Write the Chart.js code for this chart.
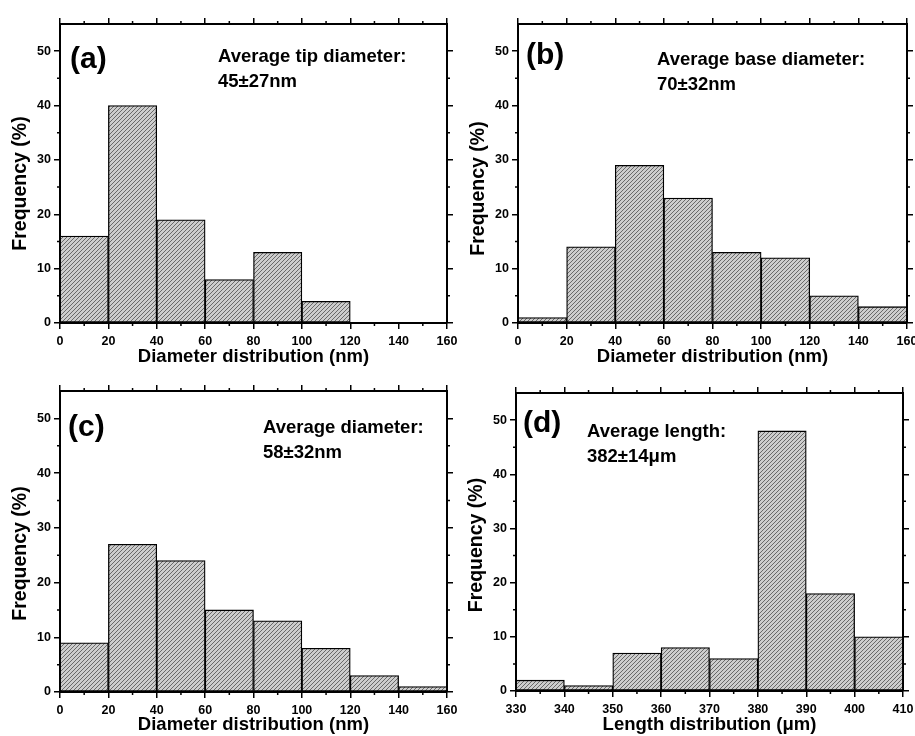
<!DOCTYPE html>
<html>
<head>
<meta charset="utf-8">
<script src="https://cdn.jsdelivr.net/npm/chart.js@4.4.1/dist/chart.umd.min.js"></script>
<style>
  html, body { margin: 0; padding: 0; background: #fff; }
  #wrap { position: relative; width: 915px; height: 736px; }
  canvas { position: absolute; }
</style>
</head>
<body>
<div id="wrap">
  <canvas id="pa" width="457" height="368" style="left:0;top:0"></canvas>
  <canvas id="pb" width="458" height="368" style="left:457px;top:0"></canvas>
  <canvas id="pc" width="457" height="368" style="left:0;top:368px"></canvas>
  <canvas id="pd" width="458" height="368" style="left:457px;top:368px"></canvas>
</div>
<script>
// bin centres
const diameterBins = [10, 30, 50, 70, 90, 110, 130, 150];
const lengthBins = [335, 345, 355, 365, 375, 385, 395, 405];

// frequencies (%)
const tipFreq = [16, 40, 19, 8, 13, 4, 0, 0];
const baseFreq = [1, 14, 29, 23, 13, 12, 5, 3];
const diamFreq = [9, 27, 24, 15, 13, 8, 3, 1];
const lengthFreq = [2, 1, 7, 8, 6, 48, 18, 10];

const panelTags = ['(a)', '(b)', '(c)', '(d)'];
const avgLabels = ['Average tip diameter:', 'Average base diameter:', 'Average diameter:', 'Average length:'];
const avgValues = ['45±27nm', '70±32nm', '58±32nm', '382±14μm'];
const xTitles = ['Diameter distribution (nm)', 'Diameter distribution (nm)', 'Diameter distribution (nm)', 'Length distribution (μm)'];
const yTitle = 'Frequency (%)';

const FONT = "'Liberation Sans', Arial, sans-serif";
Chart.defaults.font.family = FONT;
Chart.defaults.font.weight = 'bold';
Chart.defaults.color = '#000';

function hatch(ctx) {
  const c = document.createElement('canvas');
  c.width = c.height = 4;
  const g = c.getContext('2d');
  g.fillStyle = '#cdcdcd';
  g.fillRect(0, 0, 4, 4);
  g.strokeStyle = '#5e5e5e';
  g.lineWidth = 0.9;
  g.beginPath();
  g.moveTo(0, 4); g.lineTo(4, 0);
  g.moveTo(-1, 1); g.lineTo(1, -1);
  g.moveTo(3, 5); g.lineTo(5, 3);
  g.stroke();
  return ctx.createPattern(c, 'repeat');
}

// small ticks half way between the major ones, pointing outwards
const minorTicks = {
  id: 'minorTicks',
  afterDraw(chart) {
    const ctx = chart.ctx, a = chart.chartArea;
    ctx.save();
    ctx.strokeStyle = '#000';
    ctx.lineWidth = 1.5;
    ctx.beginPath();
    for (const s of Object.values(chart.scales)) {
      const t = s.ticks.map(k => k.value);
      if (t.length < 2) continue;
      const step = t[1] - t[0];
      for (let v = t[0] + step / 2; v < s.max; v += step) {
        const p = s.getPixelForValue(v);
        if (s.position === 'bottom') { ctx.moveTo(p, a.bottom); ctx.lineTo(p, a.bottom + 3); }
        if (s.position === 'top') { ctx.moveTo(p, a.top); ctx.lineTo(p, a.top - 3); }
        if (s.position === 'left') { ctx.moveTo(a.left, p); ctx.lineTo(a.left - 3, p); }
        if (s.position === 'right') { ctx.moveTo(a.right, p); ctx.lineTo(a.right + 3, p); }
      }
    }
    ctx.stroke();
    ctx.restore();
  }
};

// panel tag, average note and the y title
const panelText = {
  id: 'panelText',
  afterDraw(chart, args, o) {
    const ctx = chart.ctx, a = chart.chartArea;
    ctx.save();
    ctx.fillStyle = '#000';
    ctx.textBaseline = 'alphabetic';
    ctx.textAlign = 'left';
    ctx.font = 'bold 30px ' + FONT;
    ctx.fillText(o.tag, a.left + o.tagX, a.top + o.tagY);
    ctx.font = 'bold 18.5px ' + FONT;
    ctx.fillText(o.line1, a.left + o.noteX, a.top + o.noteY);
    ctx.fillText(o.line2, a.left + o.noteX, a.top + o.noteY + 25);
    ctx.translate(a.left - 39, (a.top + a.bottom) / 2 + o.yShift);
    ctx.rotate(-Math.PI / 2);
    ctx.textAlign = 'center';
    ctx.textBaseline = 'middle';
    ctx.font = 'bold 19.5px ' + FONT;
    ctx.fillText(yTitle, 0, 0);
    ctx.restore();
  }
};

function histogram(id, i, bins, freq, xMin, xMax, step, box, pos) {
  const canvas = document.getElementById(id);
  const ctx = canvas.getContext('2d');
  const grid = { drawOnChartArea: false, drawTicks: true, tickLength: 6, color: '#000', lineWidth: 1.5, offset: false };
  const border = { display: true, color: '#000', width: 2 };
  return new Chart(ctx, {
    type: 'bar',
    data: {
      labels: bins,
      datasets: [{
        data: freq,
        backgroundColor: hatch(ctx),
        borderColor: '#000',
        borderWidth: 1.3,
        borderSkipped: false,
        barPercentage: 1,
        categoryPercentage: 1
      }]
    },
    options: {
      responsive: false,
      animation: false,
      devicePixelRatio: 1,
      layout: { padding: 0 },
      plugins: {
        legend: { display: false },
        tooltip: { enabled: false },
        panelText: { tag: panelTags[i], line1: avgLabels[i], line2: avgValues[i],
                     tagX: pos[0], tagY: pos[1], noteX: pos[2], noteY: pos[3], yShift: pos[4] }
      },
      scales: {
        x: {
          type: 'linear', position: 'bottom', min: xMin, max: xMax, offset: false,
          grid: grid, border: border,
          ticks: { stepSize: step, includeBounds: false, maxRotation: 0, autoSkip: false, padding: 5, font: { size: 12.5, weight: 'bold' } },
          title: { display: true, text: xTitles[i], font: { size: 18.5, weight: 'bold' }, padding: { top: 0, bottom: 0 } },
          afterFit(s) { s.height = box[3]; s.paddingLeft = 0; s.paddingRight = 0; }
        },
        x2: {
          type: 'linear', position: 'top', min: xMin, max: xMax, offset: false,
          grid: grid, border: border,
          ticks: { display: false, stepSize: step, includeBounds: false },
          afterFit(s) { s.height = box[2]; }
        },
        y: {
          type: 'linear', position: 'left', min: 0, max: 55,
          grid: grid, border: border,
          ticks: { stepSize: 10, includeBounds: false, padding: 3, font: { size: 12.5, weight: 'bold' } },
          afterFit(s) { s.width = box[0]; }
        },
        y2: {
          type: 'linear', position: 'right', min: 0, max: 55,
          grid: grid, border: border,
          ticks: { display: false, stepSize: 10, includeBounds: false },
          afterFit(s) { s.width = box[1]; }
        }
      }
    },
    plugins: [minorTicks, panelText]
  });
}

// box: left, right, top, bottom axis sizes; pos: tagX, tagY, noteX, noteY, yTitle shift
histogram('pa', 0, diameterBins, tipFreq, 0, 160, 20, [60, 10, 24, 45], [10, 44, 158, 38, 10]);
histogram('pb', 1, diameterBins, baseFreq, 0, 160, 20, [61, 8, 24, 45], [8, 40, 139, 41, 15]);
histogram('pc', 2, diameterBins, diamFreq, 0, 160, 20, [60, 10, 23, 44], [8, 45, 203, 42, 12]);
histogram('pd', 3, lengthBins, lengthFreq, 330, 410, 10, [59, 12, 25, 45], [7, 39, 71, 44, 3]);
</script>
</body>
</html>
